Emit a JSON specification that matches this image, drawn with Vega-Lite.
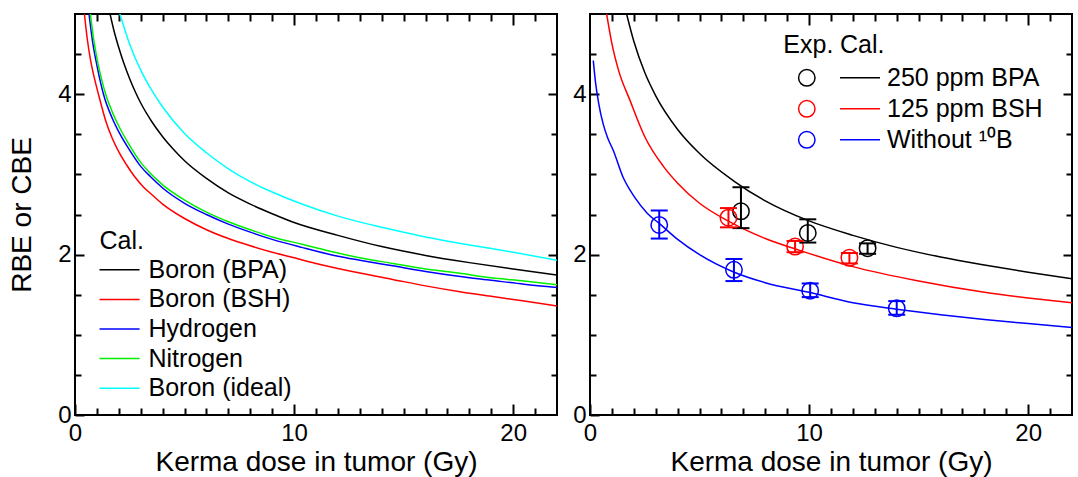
{
  "$schema": "https://vega.github.io/schema/vega-lite/v6.json",
  "background": "white",
  "padding": {"left": 7, "top": 12, "right": 4, "bottom": 0},
  "config": {
    "font": "Liberation Sans",
    "view": {"stroke": "black", "strokeWidth": 2},
    "axis": {"grid": false, "domain": false, "tickColor": "black", "tickWidth": 2, "labelColor": "black", "titleColor": "black", "labelFont": "Liberation Sans", "titleFont": "Liberation Sans", "labelFontSize": 24, "titleFontSize": 28, "titleFontWeight": "normal", "minExtent": 0, "labelFlush": false, "labelOverlap": false},
    "legend": {"labelFont": "Liberation Sans", "titleFont": "Liberation Sans", "labelFontSize": 25, "titleFontSize": 25, "titleFontWeight": "normal", "labelColor": "black", "titleColor": "black", "padding": 0, "labelLimit": 400, "titleLimit": 400},
    "concat": {"spacing": 12}
  },
  "resolve": {"scale": {"color": "independent", "stroke": "independent"}},
  "datasets": {
    "left": [
      {"dose": 1.6, "rbe": 5.0, "series": "Boron (BPA)"},
      {"dose": 1.8, "rbe": 4.77, "series": "Boron (BPA)"},
      {"dose": 2, "rbe": 4.58, "series": "Boron (BPA)"},
      {"dose": 2.25, "rbe": 4.37, "series": "Boron (BPA)"},
      {"dose": 2.5, "rbe": 4.19, "series": "Boron (BPA)"},
      {"dose": 2.75, "rbe": 4.03, "series": "Boron (BPA)"},
      {"dose": 3, "rbe": 3.89, "series": "Boron (BPA)"},
      {"dose": 3.5, "rbe": 3.66, "series": "Boron (BPA)"},
      {"dose": 4, "rbe": 3.47, "series": "Boron (BPA)"},
      {"dose": 4.5, "rbe": 3.31, "series": "Boron (BPA)"},
      {"dose": 5, "rbe": 3.17, "series": "Boron (BPA)"},
      {"dose": 6, "rbe": 2.95, "series": "Boron (BPA)"},
      {"dose": 7, "rbe": 2.77, "series": "Boron (BPA)"},
      {"dose": 8, "rbe": 2.63, "series": "Boron (BPA)"},
      {"dose": 9, "rbe": 2.51, "series": "Boron (BPA)"},
      {"dose": 10, "rbe": 2.4, "series": "Boron (BPA)"},
      {"dose": 12, "rbe": 2.24, "series": "Boron (BPA)"},
      {"dose": 14, "rbe": 2.1, "series": "Boron (BPA)"},
      {"dose": 16, "rbe": 1.99, "series": "Boron (BPA)"},
      {"dose": 18, "rbe": 1.9, "series": "Boron (BPA)"},
      {"dose": 20, "rbe": 1.82, "series": "Boron (BPA)"},
      {"dose": 22, "rbe": 1.745, "series": "Boron (BPA)"},
      {"dose": 0.43, "rbe": 5.0, "series": "Boron (BSH)"},
      {"dose": 0.55, "rbe": 4.71, "series": "Boron (BSH)"},
      {"dose": 0.7, "rbe": 4.44, "series": "Boron (BSH)"},
      {"dose": 0.85, "rbe": 4.24, "series": "Boron (BSH)"},
      {"dose": 1.07, "rbe": 4.0, "series": "Boron (BSH)"},
      {"dose": 1.4, "rbe": 3.67, "series": "Boron (BSH)"},
      {"dose": 1.7, "rbe": 3.45, "series": "Boron (BSH)"},
      {"dose": 2, "rbe": 3.28, "series": "Boron (BSH)"},
      {"dose": 2.35, "rbe": 3.12, "series": "Boron (BSH)"},
      {"dose": 2.7, "rbe": 2.98, "series": "Boron (BSH)"},
      {"dose": 3.1, "rbe": 2.85, "series": "Boron (BSH)"},
      {"dose": 3.5, "rbe": 2.75, "series": "Boron (BSH)"},
      {"dose": 4, "rbe": 2.63, "series": "Boron (BSH)"},
      {"dose": 5, "rbe": 2.45, "series": "Boron (BSH)"},
      {"dose": 6, "rbe": 2.31, "series": "Boron (BSH)"},
      {"dose": 7, "rbe": 2.2, "series": "Boron (BSH)"},
      {"dose": 8, "rbe": 2.11, "series": "Boron (BSH)"},
      {"dose": 9, "rbe": 2.03, "series": "Boron (BSH)"},
      {"dose": 10, "rbe": 1.96, "series": "Boron (BSH)"},
      {"dose": 11, "rbe": 1.89, "series": "Boron (BSH)"},
      {"dose": 13, "rbe": 1.77, "series": "Boron (BSH)"},
      {"dose": 14.5, "rbe": 1.69, "series": "Boron (BSH)"},
      {"dose": 16, "rbe": 1.61, "series": "Boron (BSH)"},
      {"dose": 17.5, "rbe": 1.54, "series": "Boron (BSH)"},
      {"dose": 19, "rbe": 1.48, "series": "Boron (BSH)"},
      {"dose": 20.5, "rbe": 1.42, "series": "Boron (BSH)"},
      {"dose": 22, "rbe": 1.36, "series": "Boron (BSH)"},
      {"dose": 0.64, "rbe": 5.0, "series": "Hydrogen"},
      {"dose": 0.8, "rbe": 4.66, "series": "Hydrogen"},
      {"dose": 1, "rbe": 4.36, "series": "Hydrogen"},
      {"dose": 1.3, "rbe": 4.0, "series": "Hydrogen"},
      {"dose": 1.7, "rbe": 3.7, "series": "Hydrogen"},
      {"dose": 2, "rbe": 3.53, "series": "Hydrogen"},
      {"dose": 2.5, "rbe": 3.3, "series": "Hydrogen"},
      {"dose": 3, "rbe": 3.1, "series": "Hydrogen"},
      {"dose": 3.45, "rbe": 2.97, "series": "Hydrogen"},
      {"dose": 4, "rbe": 2.83, "series": "Hydrogen"},
      {"dose": 5, "rbe": 2.64, "series": "Hydrogen"},
      {"dose": 6, "rbe": 2.5, "series": "Hydrogen"},
      {"dose": 7, "rbe": 2.38, "series": "Hydrogen"},
      {"dose": 8, "rbe": 2.28, "series": "Hydrogen"},
      {"dose": 9, "rbe": 2.19, "series": "Hydrogen"},
      {"dose": 10.35, "rbe": 2.09, "series": "Hydrogen"},
      {"dose": 12, "rbe": 1.98, "series": "Hydrogen"},
      {"dose": 13, "rbe": 1.93, "series": "Hydrogen"},
      {"dose": 14.5, "rbe": 1.86, "series": "Hydrogen"},
      {"dose": 16, "rbe": 1.79, "series": "Hydrogen"},
      {"dose": 17.5, "rbe": 1.73, "series": "Hydrogen"},
      {"dose": 19, "rbe": 1.68, "series": "Hydrogen"},
      {"dose": 20.5, "rbe": 1.63, "series": "Hydrogen"},
      {"dose": 22, "rbe": 1.59, "series": "Hydrogen"},
      {"dose": 0.7, "rbe": 5.0, "series": "Nitrogen"},
      {"dose": 0.85, "rbe": 4.69, "series": "Nitrogen"},
      {"dose": 1, "rbe": 4.45, "series": "Nitrogen"},
      {"dose": 1.2, "rbe": 4.2, "series": "Nitrogen"},
      {"dose": 1.4, "rbe": 4.0, "series": "Nitrogen"},
      {"dose": 1.7, "rbe": 3.78, "series": "Nitrogen"},
      {"dose": 2, "rbe": 3.6, "series": "Nitrogen"},
      {"dose": 2.5, "rbe": 3.36, "series": "Nitrogen"},
      {"dose": 3, "rbe": 3.15, "series": "Nitrogen"},
      {"dose": 3.45, "rbe": 3.01, "series": "Nitrogen"},
      {"dose": 4, "rbe": 2.87, "series": "Nitrogen"},
      {"dose": 5, "rbe": 2.68, "series": "Nitrogen"},
      {"dose": 6, "rbe": 2.53, "series": "Nitrogen"},
      {"dose": 7, "rbe": 2.41, "series": "Nitrogen"},
      {"dose": 8, "rbe": 2.31, "series": "Nitrogen"},
      {"dose": 9, "rbe": 2.22, "series": "Nitrogen"},
      {"dose": 10.35, "rbe": 2.13, "series": "Nitrogen"},
      {"dose": 12, "rbe": 2.02, "series": "Nitrogen"},
      {"dose": 13, "rbe": 1.96, "series": "Nitrogen"},
      {"dose": 14.5, "rbe": 1.89, "series": "Nitrogen"},
      {"dose": 16, "rbe": 1.82, "series": "Nitrogen"},
      {"dose": 17.5, "rbe": 1.77, "series": "Nitrogen"},
      {"dose": 19, "rbe": 1.71, "series": "Nitrogen"},
      {"dose": 20.5, "rbe": 1.67, "series": "Nitrogen"},
      {"dose": 22, "rbe": 1.625, "series": "Nitrogen"},
      {"dose": 2.05, "rbe": 5.0, "series": "Boron (ideal)"},
      {"dose": 2.5, "rbe": 4.62, "series": "Boron (ideal)"},
      {"dose": 3, "rbe": 4.3, "series": "Boron (ideal)"},
      {"dose": 3.5, "rbe": 4.05, "series": "Boron (ideal)"},
      {"dose": 4, "rbe": 3.84, "series": "Boron (ideal)"},
      {"dose": 5, "rbe": 3.51, "series": "Boron (ideal)"},
      {"dose": 6, "rbe": 3.27, "series": "Boron (ideal)"},
      {"dose": 7, "rbe": 3.07, "series": "Boron (ideal)"},
      {"dose": 8, "rbe": 2.91, "series": "Boron (ideal)"},
      {"dose": 9, "rbe": 2.78, "series": "Boron (ideal)"},
      {"dose": 10.35, "rbe": 2.63, "series": "Boron (ideal)"},
      {"dose": 12, "rbe": 2.48, "series": "Boron (ideal)"},
      {"dose": 14, "rbe": 2.34, "series": "Boron (ideal)"},
      {"dose": 16, "rbe": 2.22, "series": "Boron (ideal)"},
      {"dose": 18, "rbe": 2.12, "series": "Boron (ideal)"},
      {"dose": 20, "rbe": 2.03, "series": "Boron (ideal)"},
      {"dose": 22, "rbe": 1.93, "series": "Boron (ideal)"}
    ],
    "rcal": [
      {"dose": 1.67, "rbe": 5.0, "curve": "250 ppm BPA"},
      {"dose": 2, "rbe": 4.66, "curve": "250 ppm BPA"},
      {"dose": 2.5, "rbe": 4.27, "curve": "250 ppm BPA"},
      {"dose": 3, "rbe": 3.98, "curve": "250 ppm BPA"},
      {"dose": 4, "rbe": 3.56, "curve": "250 ppm BPA"},
      {"dose": 5, "rbe": 3.26, "curve": "250 ppm BPA"},
      {"dose": 6.55, "rbe": 2.92, "curve": "250 ppm BPA"},
      {"dose": 8, "rbe": 2.67, "curve": "250 ppm BPA"},
      {"dose": 10, "rbe": 2.42, "curve": "250 ppm BPA"},
      {"dose": 12, "rbe": 2.24, "curve": "250 ppm BPA"},
      {"dose": 14, "rbe": 2.09, "curve": "250 ppm BPA"},
      {"dose": 16, "rbe": 1.97, "curve": "250 ppm BPA"},
      {"dose": 18, "rbe": 1.87, "curve": "250 ppm BPA"},
      {"dose": 20, "rbe": 1.78, "curve": "250 ppm BPA"},
      {"dose": 22, "rbe": 1.7, "curve": "250 ppm BPA"},
      {"dose": 0.76, "rbe": 5.0, "curve": "125 ppm BSH"},
      {"dose": 1, "rbe": 4.63, "curve": "125 ppm BSH"},
      {"dose": 1.3, "rbe": 4.3, "curve": "125 ppm BSH"},
      {"dose": 1.83, "rbe": 3.92, "curve": "125 ppm BSH"},
      {"dose": 2.5, "rbe": 3.47, "curve": "125 ppm BSH"},
      {"dose": 3.35, "rbe": 3.1, "curve": "125 ppm BSH"},
      {"dose": 4, "rbe": 2.89, "curve": "125 ppm BSH"},
      {"dose": 5, "rbe": 2.64, "curve": "125 ppm BSH"},
      {"dose": 6.3, "rbe": 2.42, "curve": "125 ppm BSH"},
      {"dose": 8, "rbe": 2.2, "curve": "125 ppm BSH"},
      {"dose": 9.6, "rbe": 2.05, "curve": "125 ppm BSH"},
      {"dose": 12, "rbe": 1.85, "curve": "125 ppm BSH"},
      {"dose": 15, "rbe": 1.67, "curve": "125 ppm BSH"},
      {"dose": 18, "rbe": 1.53, "curve": "125 ppm BSH"},
      {"dose": 20, "rbe": 1.46, "curve": "125 ppm BSH"},
      {"dose": 22, "rbe": 1.4, "curve": "125 ppm BSH"},
      {"dose": 0.15, "rbe": 4.42, "curve": "Without ¹⁰B"},
      {"dose": 0.25, "rbe": 4.15, "curve": "Without ¹⁰B"},
      {"dose": 0.4, "rbe": 3.88, "curve": "Without ¹⁰B"},
      {"dose": 0.6, "rbe": 3.63, "curve": "Without ¹⁰B"},
      {"dose": 0.8, "rbe": 3.46, "curve": "Without ¹⁰B"},
      {"dose": 1.06, "rbe": 3.3, "curve": "Without ¹⁰B"},
      {"dose": 1.5, "rbe": 2.97, "curve": "Without ¹⁰B"},
      {"dose": 2.05, "rbe": 2.71, "curve": "Without ¹⁰B"},
      {"dose": 2.6, "rbe": 2.52, "curve": "Without ¹⁰B"},
      {"dose": 3.2, "rbe": 2.38, "curve": "Without ¹⁰B"},
      {"dose": 4, "rbe": 2.19, "curve": "Without ¹⁰B"},
      {"dose": 5, "rbe": 2.0, "curve": "Without ¹⁰B"},
      {"dose": 6.5, "rbe": 1.79, "curve": "Without ¹⁰B"},
      {"dose": 8, "rbe": 1.65, "curve": "Without ¹⁰B"},
      {"dose": 10, "rbe": 1.53, "curve": "Without ¹⁰B"},
      {"dose": 12, "rbe": 1.4, "curve": "Without ¹⁰B"},
      {"dose": 14, "rbe": 1.32, "curve": "Without ¹⁰B"},
      {"dose": 16, "rbe": 1.25, "curve": "Without ¹⁰B"},
      {"dose": 18, "rbe": 1.19, "curve": "Without ¹⁰B"},
      {"dose": 20, "rbe": 1.14, "curve": "Without ¹⁰B"},
      {"dose": 22, "rbe": 1.09, "curve": "Without ¹⁰B"}
    ],
    "rexp": [
      {"dose": 6.89, "rbe": 2.54, "lo": 2.33, "hi": 2.84, "series": "BPA exp"},
      {"dose": 9.94, "rbe": 2.27, "lo": 2.15, "hi": 2.44, "series": "BPA exp"},
      {"dose": 12.67, "rbe": 2.08, "lo": 2.01, "hi": 2.14, "series": "BPA exp"},
      {"dose": 6.32, "rbe": 2.46, "lo": 2.34, "hi": 2.58, "series": "BSH exp"},
      {"dose": 9.36, "rbe": 2.1, "lo": 2.03, "hi": 2.17, "series": "BSH exp"},
      {"dose": 11.84, "rbe": 1.96, "lo": 1.89, "hi": 2.02, "series": "BSH exp"},
      {"dose": 3.16, "rbe": 2.37, "lo": 2.2, "hi": 2.55, "series": "no boron exp"},
      {"dose": 6.57, "rbe": 1.81, "lo": 1.67, "hi": 1.945, "series": "no boron exp"},
      {"dose": 10.05, "rbe": 1.55, "lo": 1.47, "hi": 1.64, "series": "no boron exp"},
      {"dose": 14.0, "rbe": 1.33, "lo": 1.25, "hi": 1.42, "series": "no boron exp"}
    ]
  },
  "hconcat": [
    {
      "width": 482,
      "height": 401,
      "data": {"name": "left"},
      "layer": [
        {
          "mark": {"type": "line", "strokeWidth": 1.5, "interpolate": "monotone", "clip": true},
          "encoding": {
            "x": {"field": "dose", "type": "quantitative", "scale": {"domain": [0, 22], "nice": false, "zero": false},
                  "axis": {"orient": "bottom", "values": [0, 10, 20], "tickSize": -11, "labelPadding": 17, "title": "Kerma dose in tumor (Gy)", "titlePadding": 3}},
            "y": {"field": "rbe", "type": "quantitative", "scale": {"domain": [0, 5], "nice": false},
                  "axis": {"orient": "left", "values": [0, 2, 4], "tickSize": -9, "labelPadding": 13, "title": "RBE or CBE", "titlePadding": 21}},
            "color": {"field": "series", "type": "nominal", "sort": null,
                      "scale": {"domain": ["Boron (BPA)", "Boron (BSH)", "Hydrogen", "Nitrogen", "Boron (ideal)"], "range": ["#000000", "#ff0000", "#0000ff", "#00ee00", "#00ffff"]},
                      "legend": {"title": "Cal.", "orient": "none", "legendX": 24.5, "legendY": 214.5, "titlePadding": 1.3, "rowPadding": 1.6, "symbolType": "M-1.07,0H1.79", "symbolSize": 784, "symbolStrokeWidth": 1.5, "labelOffset": 19}}
          }
        },
        {
          "mark": {"type": "line", "opacity": 0},
          "encoding": {
            "x": {"field": "dose", "type": "quantitative", "axis": {"orient": "bottom", "values": [1,2,3,4,5,6,7,8,9,11,12,13,14,15,16,17,18,19,21], "tickSize": -7, "labels": false, "title": null}},
            "y": {"field": "rbe", "type": "quantitative", "axis": {"orient": "left", "values": [0.5,1,1.5,2.5,3,3.5,4.5], "tickSize": -6, "labels": false, "title": null}},
            "detail": {"field": "series"}
          }
        },
        {
          "mark": {"type": "line", "opacity": 0},
          "encoding": {
            "x": {"field": "dose", "type": "quantitative", "axis": {"orient": "top", "values": [10, 20], "tickSize": -11, "labels": false, "title": null}},
            "y": {"field": "rbe", "type": "quantitative", "axis": {"orient": "right", "values": [2, 4], "tickSize": -9, "labels": false, "title": null}},
            "detail": {"field": "series"}
          }
        },
        {
          "mark": {"type": "line", "opacity": 0},
          "encoding": {
            "x": {"field": "dose", "type": "quantitative", "axis": {"orient": "top", "values": [1,2,3,4,5,6,7,8,9,11,12,13,14,15,16,17,18,19,21], "tickSize": -7, "labels": false, "title": null}},
            "y": {"field": "rbe", "type": "quantitative", "axis": {"orient": "right", "values": [0.5,1,1.5,2.5,3,3.5,4.5], "tickSize": -6, "labels": false, "title": null}},
            "detail": {"field": "series"}
          }
        }
      ],
      "resolve": {"axis": {"x": "independent", "y": "independent"}}
    },
    {
      "width": 482,
      "height": 401,
      "layer": [
        {
          "data": {"name": "rcal"},
          "mark": {"type": "line", "strokeWidth": 1.5, "interpolate": "monotone", "clip": true},
          "encoding": {
            "x": {"field": "dose", "type": "quantitative", "scale": {"domain": [0, 22], "nice": false, "zero": false},
                  "axis": {"orient": "bottom", "values": [0, 10, 20], "tickSize": -11, "labelPadding": 17, "title": "Kerma dose in tumor (Gy)", "titlePadding": 3}},
            "y": {"field": "rbe", "type": "quantitative", "scale": {"domain": [0, 5], "nice": false},
                  "axis": {"orient": "left", "values": [0, 2, 4], "tickSize": -9, "labelPadding": 13, "title": null}},
            "stroke": {"field": "curve", "type": "nominal", "sort": null,
                       "scale": {"domain": ["250 ppm BPA", "125 ppm BSH", "Without ¹⁰B"], "range": ["#000000", "#ff0000", "#0000ff"]},
                       "legend": {"title": "Cal.", "orient": "none", "legendX": 250, "legendY": 18.5, "titlePadding": 7.8, "rowPadding": 5, "symbolType": "M-1.25,0H2.75", "symbolSize": 400, "symbolStrokeWidth": 1.5, "labelOffset": 22}}
          }
        },
        {
          "data": {"name": "rexp"},
          "mark": {"type": "point", "filled": false, "size": 270, "strokeWidth": 1.5, "opacity": 1},
          "encoding": {
            "x": {"field": "dose", "type": "quantitative", "axis": null},
            "y": {"field": "rbe", "type": "quantitative", "axis": null},
            "color": {"field": "series", "type": "nominal", "sort": null,
                      "scale": {"domain": ["BPA exp", "BSH exp", "no boron exp"], "range": ["#000000", "#ff0000", "#0000ff"]},
                      "legend": {"title": "Exp.", "orient": "none", "legendX": 193.3, "legendY": 18.5, "titlePadding": 7.8, "rowPadding": 5, "symbolType": "circle", "symbolSize": 270, "symbolStrokeWidth": 1.5, "symbolOffset": 11, "symbolFillColor": "transparent", "labelExpr": "''", "labelOpacity": 0}}
          }
        },
        {
          "data": {"name": "rexp"},
          "mark": {"type": "rule", "strokeWidth": 2},
          "encoding": {
            "x": {"field": "dose", "type": "quantitative", "axis": null},
            "y": {"field": "lo", "type": "quantitative", "axis": null},
            "y2": {"field": "hi"},
            "color": {"field": "series", "type": "nominal", "sort": null}
          }
        },
        {
          "data": {"name": "rexp"},
          "mark": {"type": "rule", "strokeWidth": 2, "xOffset": -8.5, "x2Offset": 8.5},
          "encoding": {
            "x": {"field": "dose", "type": "quantitative", "axis": null},
            "x2": {"field": "dose"},
            "y": {"field": "lo", "type": "quantitative", "axis": null},
            "color": {"field": "series", "type": "nominal", "sort": null}
          }
        },
        {
          "data": {"name": "rexp"},
          "mark": {"type": "rule", "strokeWidth": 2, "xOffset": -8.5, "x2Offset": 8.5},
          "encoding": {
            "x": {"field": "dose", "type": "quantitative", "axis": null},
            "x2": {"field": "dose"},
            "y": {"field": "hi", "type": "quantitative", "axis": null},
            "color": {"field": "series", "type": "nominal", "sort": null}
          }
        },
        {
          "data": {"name": "rcal"},
          "mark": {"type": "line", "opacity": 0},
          "encoding": {
            "x": {"field": "dose", "type": "quantitative", "axis": {"orient": "bottom", "values": [1,2,3,4,5,6,7,8,9,11,12,13,14,15,16,17,18,19,21], "tickSize": -7, "labels": false, "title": null}},
            "y": {"field": "rbe", "type": "quantitative", "axis": {"orient": "left", "values": [0.5,1,1.5,2.5,3,3.5,4.5], "tickSize": -6, "labels": false, "title": null}},
            "detail": {"field": "curve"}
          }
        },
        {
          "data": {"name": "rcal"},
          "mark": {"type": "line", "opacity": 0},
          "encoding": {
            "x": {"field": "dose", "type": "quantitative", "axis": {"orient": "top", "values": [10, 20], "tickSize": -11, "labels": false, "title": null}},
            "y": {"field": "rbe", "type": "quantitative", "axis": {"orient": "right", "values": [2, 4], "tickSize": -9, "labels": false, "title": null}},
            "detail": {"field": "curve"}
          }
        },
        {
          "data": {"name": "rcal"},
          "mark": {"type": "line", "opacity": 0},
          "encoding": {
            "x": {"field": "dose", "type": "quantitative", "axis": {"orient": "top", "values": [1,2,3,4,5,6,7,8,9,11,12,13,14,15,16,17,18,19,21], "tickSize": -7, "labels": false, "title": null}},
            "y": {"field": "rbe", "type": "quantitative", "axis": {"orient": "right", "values": [0.5,1,1.5,2.5,3,3.5,4.5], "tickSize": -6, "labels": false, "title": null}},
            "detail": {"field": "curve"}
          }
        }
      ],
      "resolve": {"axis": {"x": "independent", "y": "independent"}}
    }
  ]
}
